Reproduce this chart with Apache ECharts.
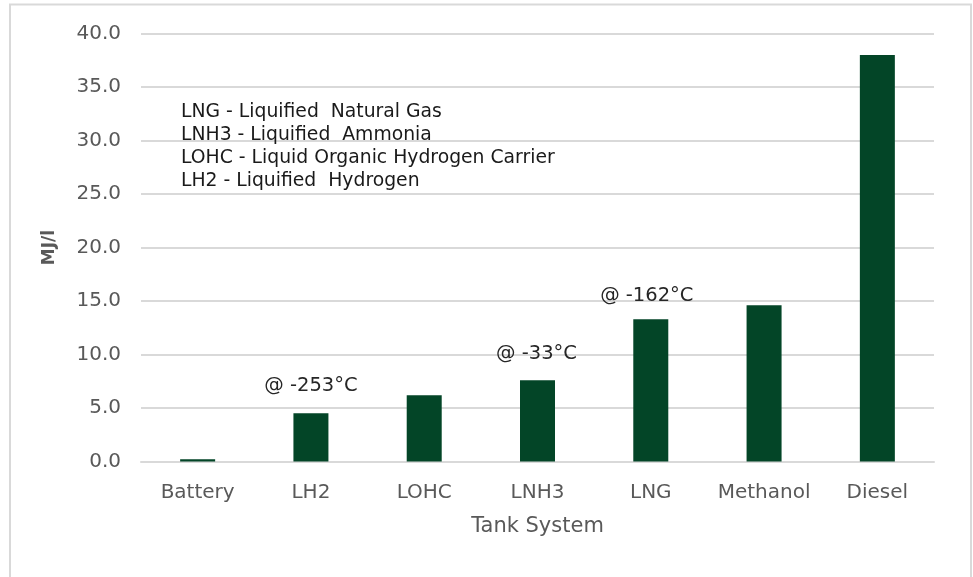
<!DOCTYPE html>
<html>
<head>
<meta charset="utf-8">
<script src="https://cdn.jsdelivr.net/npm/echarts@6/dist/echarts.min.js"></script>
<style>
html,body{margin:0;padding:0;background:#fff;}
#chart{width:973px;height:577px;}
</style>
</head>
<body>
<div id="chart"></div>
<script>
const categories = ['Battery', 'LH2', 'LOHC', 'LNH3', 'LNG', 'Methanol', 'Diesel'];
const values = [0.2, 4.5, 6.2, 7.6, 13.3, 14.6, 38.0];
const annotations = ['', '@ -253°C', '', '@ -33°C', '@ -162°C', '', ''];
const yTicks = { min: 0, max: 40, interval: 5 };
const glossary = [
  'LNG - Liquified  Natural Gas',
  'LNH3 - Liquified  Ammonia',
  'LOHC - Liquid Organic Hydrogen Carrier',
  'LH2 - Liquified  Hydrogen'
];
const labelDistance = [0, 17, 0, 16, 13, 0, 0];
const labelOffsetX = [0, 0, 0, -1, -4, 0, 0];

const FONT = '"DejaVu Sans", Verdana, sans-serif';
const chart = echarts.init(document.getElementById('chart'), null, { renderer: 'canvas' });

const seriesData = values.map((v, i) => {
  const item = { value: v };
  if (annotations[i]) {
    item.label = {
      show: true,
      position: 'top',
      distance: labelDistance[i],
      offset: [labelOffsetX[i], 0],
      formatter: annotations[i],
      fontFamily: FONT,
      fontSize: 19.5,
      color: '#262626'
    };
  }
  return item;
});

chart.setOption({
  animation: false,
  backgroundColor: '#ffffff',
  title: {
    text: glossary.join('\n'),
    left: 181,
    top: 101,
    padding: 0,
    textStyle: {
      fontFamily: FONT,
      fontSize: 18.8,
      fontWeight: 'normal',
      lineHeight: 23,
      color: '#1a1a1a'
    }
  },
  graphic: [{
    type: 'rect',
    shape: { x: 10, y: 4.5, width: 961, height: 620 },
    style: { fill: 'none', stroke: '#d9d9d9', lineWidth: 2 },
    silent: true,
    z: -1
  }],
  grid: { left: 141, right: 39, top: 33.5, bottom: 115.5 },
  xAxis: {
    type: 'category',
    data: categories,
    name: 'Tank System',
    nameLocation: 'middle',
    nameGap: 55,
    nameTextStyle: { fontFamily: FONT, fontSize: 21, color: '#595959' },
    axisLine: { show: true, lineStyle: { color: '#d9d9d9', width: 2 } },
    axisTick: { show: false },
    axisLabel: { interval: 0, fontFamily: FONT, fontSize: 20, color: '#595959', margin: 21 }
  },
  yAxis: {
    type: 'value',
    min: yTicks.min,
    max: yTicks.max,
    interval: yTicks.interval,
    name: 'MJ/l',
    nameLocation: 'middle',
    nameGap: 83,
    nameTextStyle: { fontFamily: FONT, fontSize: 17, fontWeight: 'bold', color: '#595959' },
    axisLine: { show: false },
    axisTick: { show: false },
    splitLine: { lineStyle: { color: '#d9d9d9', width: 2 } },
    axisLabel: {
      fontFamily: FONT, fontSize: 20, color: '#595959', margin: 20,
      formatter: v => v.toFixed(1)
    }
  },
  series: [{
    type: 'bar',
    data: seriesData,
    barWidth: 35,
    itemStyle: { color: '#034527' }
  }]
});
</script>
</body>
</html>
